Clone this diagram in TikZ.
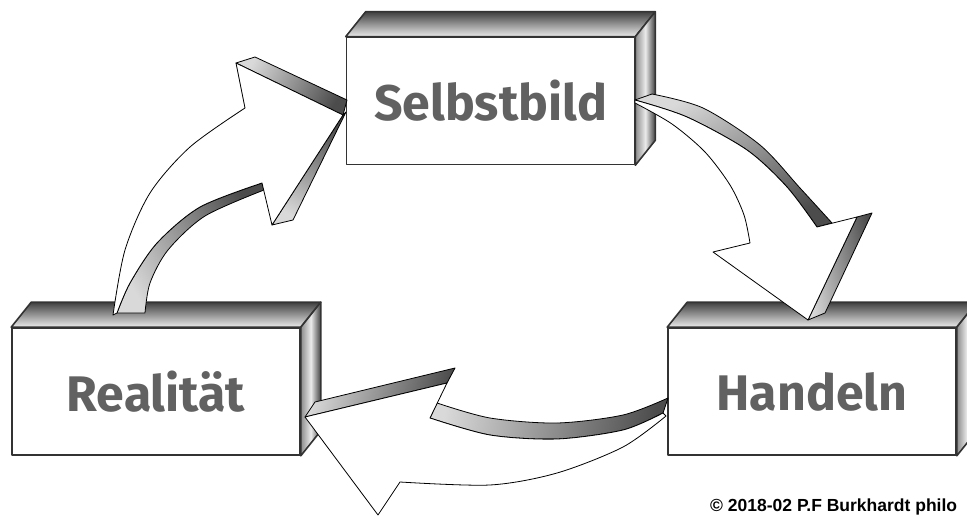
\documentclass[tikz,border=0pt]{standalone}
\usepackage{fontspec}
\usetikzlibrary{calc}
\newfontfamily\handfont{Fira Sans}
\newfontfamily\notefont{Liberation Sans}

\begin{document}
\begin{tikzpicture}
[
    x=1pt, y=-1pt,
    block/.style={draw=black!80, line width=1.6pt, fill=white, line join=round,
        minimum width=288pt, minimum height=127pt, inner sep=0pt, text=black!62,
        font=\handfont\bfseries\fontsize{50}{50}\selectfont},
    topface/.style={draw=black!80, line width=1.6pt, line join=round,
        top color=black!75, bottom color=black!8},
    sideface/.style={draw=black!80, line width=1.6pt, line join=round,
        left color=black!45, right color=black!75, middle color=black!8},
    arrowface/.style={draw=black, line width=0.8pt, fill=white, line join=round},
    arrowside/.style={draw=black, line width=0.8pt, line join=round,
        left color=black!15, right color=black!70},
]
\useasboundingbox (0,0) rectangle (967,516);

% the three blocks
\node [block] (selbst)  at (490.5,101) {Selbstbild};
\node [block] (real)    at (156,391.5) {Realität};
\node [block] (handeln) at (812,391.5)  {Handeln};

\foreach \b in {selbst, real, handeln}{
    \draw [topface] (\b.north west) -- ([shift={(20,-25)}]\b.north west)
        -- ([shift={(20,-25)}]\b.north east) -- (\b.north east) -- cycle;
    \draw [sideface] (\b.north east) -- ([shift={(20,-25)}]\b.north east)
        -- ([shift={(20,-25)}]\b.south east) -- (\b.south east) -- cycle;
}

% Realitaet -> Selbstbild
\draw [arrowside, shading angle=60] (236,63) -- (255,57) -- (347,100) -- (343,115) -- cycle;
\draw [arrowside, shading angle=150] (343,115) -- (346,112) -- (293,220) -- (272,225) -- cycle;
\draw [arrowside, shading angle=120] (262,183)
    -- plot [smooth] coordinates {(262,183) (200,207) (157,243) (130,283) (117,313)}
    -- (145,313)
    -- plot [smooth] coordinates {(145,313) (150,283) (168,250) (205,216) (264,190)} -- cycle;
\draw [arrowface] (113,315)
    -- plot [smooth] coordinates {(113,315) (125,250) (150,193) (190,147) (245,108)}
    -- (236,63) -- (343,115) -- (272,225) -- (262,183)
    -- plot [smooth] coordinates {(262,183) (200,207) (157,243) (130,283) (117,313)} -- cycle;

% Selbstbild -> Handeln
\draw [arrowside, shading angle=30] (635,100)
    -- plot [smooth] coordinates {(635,100) (687,117) (747,150) (787,187) (817,227)}
    -- (832,223)
    -- plot [smooth] coordinates {(832,223) (800,188) (760,145) (703,108) (652,94)} -- cycle;
\draw [arrowside, shading angle=100] (857,217) -- (872,213) -- (825,313) -- (808,320) -- cycle;
\draw [arrowface] (635,100)
    -- plot [smooth] coordinates {(635,100) (687,117) (747,150) (787,187) (817,227)}
    -- (857,217) -- (808,320) -- (713,252) -- (750,243)
    -- plot [smooth] coordinates {(750,243) (744,215) (730,185) (705,152) (672,124) (635,103)} -- cycle;

% Handeln -> Realitaet
\draw [arrowside, shading angle=75] (305,417) -- (315,402) -- (455,368) -- (447,383) -- cycle;
\draw [arrowside, shading angle=80] (430,418)
    -- plot [smooth] coordinates {(430,418) (490,435) (557,439) (623,430) (663,413)}
    -- (668,398)
    -- plot [smooth] coordinates {(668,398) (623,415) (557,423) (490,418) (437,403)} -- cycle;
\draw [arrowface] (305,417) -- (447,383) -- (430,418)
    -- plot [smooth] coordinates {(430,418) (490,435) (557,439) (623,430) (663,413)}
    -- (666,416)
    -- plot [smooth] coordinates {(666,416) (623,447) (557,473) (490,485) (400,482)}
    -- (378,515) -- cycle;

\node [anchor=base west, font=\notefont\bfseries\fontsize{17.5}{18}\selectfont, inner sep=0pt]
    (note) at (710,511) {© 2018-02 P.F Burkhardt philo};
\end{tikzpicture}
\end{document}
